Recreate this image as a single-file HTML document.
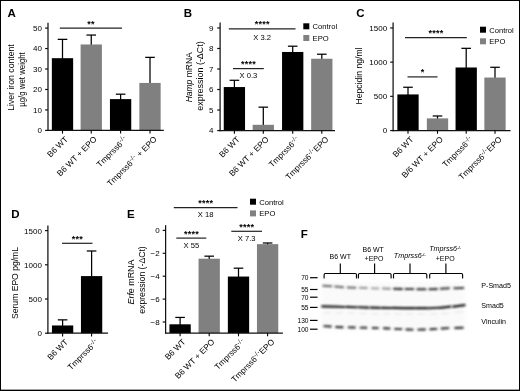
<!DOCTYPE html>
<html lang="en">
<head>
<meta charset="utf-8">
<title>Figure</title>
<style>
html,body{margin:0;padding:0;background:#fff;}
body{width:520px;height:391px;overflow:hidden;position:relative;}
svg{position:absolute;left:0;top:0;display:block;will-change:transform;font-family:"Liberation Sans", Arial, Helvetica, sans-serif;}
.frame{position:absolute;left:0;top:0;width:518px;height:389px;border:1px solid #000;box-sizing:content-box;pointer-events:none;}
</style>
</head>
<body>
<svg width="520" height="391" viewBox="0 0 520 391" shape-rendering="auto">
<defs><filter id="blur" x="-5%" y="-20%" width="110%" height="140%"><feGaussianBlur stdDeviation="0.8"/></filter><filter id="blur2" x="-10%" y="-20%" width="120%" height="140%"><feGaussianBlur stdDeviation="2.5"/></filter></defs>
<text x="7.55" y="17.00" font-size="11.5" text-anchor="start" font-weight="bold" font-style="normal" fill="#000" >A</text>
<line x1="62.50" y1="39.35" x2="62.50" y2="59.18" stroke="#000" stroke-width="1.25"/>
<line x1="57.70" y1="39.35" x2="67.30" y2="39.35" stroke="#000" stroke-width="1.25"/>
<rect x="51.85" y="58.18" width="21.30" height="72.22" fill="#000" />
<line x1="91.25" y1="35.06" x2="91.25" y2="45.47" stroke="#000" stroke-width="1.25"/>
<line x1="86.45" y1="35.06" x2="96.05" y2="35.06" stroke="#000" stroke-width="1.25"/>
<rect x="80.60" y="44.47" width="21.30" height="85.93" fill="#808080" />
<line x1="120.60" y1="94.19" x2="120.60" y2="100.10" stroke="#000" stroke-width="1.25"/>
<line x1="115.80" y1="94.19" x2="125.40" y2="94.19" stroke="#000" stroke-width="1.25"/>
<rect x="109.95" y="99.10" width="21.30" height="31.30" fill="#000" />
<line x1="150.00" y1="57.36" x2="150.00" y2="83.93" stroke="#000" stroke-width="1.25"/>
<line x1="145.20" y1="57.36" x2="154.80" y2="57.36" stroke="#000" stroke-width="1.25"/>
<rect x="139.35" y="82.93" width="21.30" height="47.47" fill="#808080" />
<line x1="48.00" y1="22.70" x2="48.00" y2="131.00" stroke="#111" stroke-width="1.25"/>
<line x1="47.40" y1="130.40" x2="163.80" y2="130.40" stroke="#111" stroke-width="1.25"/>
<line x1="45.10" y1="130.40" x2="48.00" y2="130.40" stroke="#111" stroke-width="1.2"/>
<text x="42.00" y="133.30" font-size="8" text-anchor="end" font-weight="normal" font-style="normal" fill="#000" >0</text>
<line x1="45.10" y1="109.94" x2="48.00" y2="109.94" stroke="#111" stroke-width="1.2"/>
<text x="42.00" y="112.84" font-size="8" text-anchor="end" font-weight="normal" font-style="normal" fill="#000" >10</text>
<line x1="45.10" y1="89.48" x2="48.00" y2="89.48" stroke="#111" stroke-width="1.2"/>
<text x="42.00" y="92.38" font-size="8" text-anchor="end" font-weight="normal" font-style="normal" fill="#000" >20</text>
<line x1="45.10" y1="69.02" x2="48.00" y2="69.02" stroke="#111" stroke-width="1.2"/>
<text x="42.00" y="71.92" font-size="8" text-anchor="end" font-weight="normal" font-style="normal" fill="#000" >30</text>
<line x1="45.10" y1="48.56" x2="48.00" y2="48.56" stroke="#111" stroke-width="1.2"/>
<text x="42.00" y="51.46" font-size="8" text-anchor="end" font-weight="normal" font-style="normal" fill="#000" >40</text>
<line x1="45.10" y1="28.10" x2="48.00" y2="28.10" stroke="#111" stroke-width="1.2"/>
<text x="42.00" y="31.00" font-size="8" text-anchor="end" font-weight="normal" font-style="normal" fill="#000" >50</text>
<line x1="62.50" y1="130.40" x2="62.50" y2="133.60" stroke="#000" stroke-width="1.1"/>
<text x="68.50" y="139.80" font-size="8.3" text-anchor="end" font-weight="normal" font-style="normal" fill="#000" transform="rotate(-45 68.50 139.80)" >B6 WT</text>
<line x1="91.25" y1="130.40" x2="91.25" y2="133.60" stroke="#000" stroke-width="1.1"/>
<text x="97.25" y="139.80" font-size="8.3" text-anchor="end" font-weight="normal" font-style="normal" fill="#000" transform="rotate(-45 97.25 139.80)" >B6 WT + EPO</text>
<line x1="120.60" y1="130.40" x2="120.60" y2="133.60" stroke="#000" stroke-width="1.1"/>
<text x="128.00" y="139.80" font-size="8.3" text-anchor="end" font-weight="normal" font-style="normal" fill="#000" transform="rotate(-45 128.00 139.80)" >Tmprss6<tspan font-size="78%" dy="-2.8" letter-spacing="0.35">-/-</tspan></text>
<line x1="150.00" y1="130.40" x2="150.00" y2="133.60" stroke="#000" stroke-width="1.1"/>
<text x="157.40" y="139.80" font-size="8.3" text-anchor="end" font-weight="normal" font-style="normal" fill="#000" transform="rotate(-45 157.40 139.80)" >Tmprss6<tspan font-size="78%" dy="-2.8" letter-spacing="0.35">-/-</tspan><tspan dy="2.8"> + EPO</tspan></text>
<line x1="59.80" y1="28.10" x2="122.00" y2="28.10" stroke="#222" stroke-width="1.2"/>
<text x="91.10" y="26.50" font-size="9" text-anchor="middle" font-weight="bold" font-style="normal" fill="#000" letter-spacing="0.25">**</text>
<text x="14.00" y="77.50" font-size="8.5" text-anchor="middle" font-weight="normal" font-style="normal" fill="#000" transform="rotate(-90 14.00 77.50)" textLength="66.50" lengthAdjust="spacingAndGlyphs" >Liver iron content</text>
<text x="25.30" y="79.50" font-size="8.5" text-anchor="middle" font-weight="normal" font-style="normal" fill="#000" transform="rotate(-90 25.30 79.50)" textLength="54.50" lengthAdjust="spacingAndGlyphs" >µg/g wet weight</text>
<text x="183.75" y="17.00" font-size="11.5" text-anchor="start" font-weight="bold" font-style="normal" fill="#000" >B</text>
<line x1="234.40" y1="80.28" x2="234.40" y2="88.05" stroke="#000" stroke-width="1.25"/>
<line x1="229.60" y1="80.28" x2="239.20" y2="80.28" stroke="#000" stroke-width="1.25"/>
<rect x="223.75" y="87.05" width="21.30" height="43.50" fill="#000" />
<line x1="263.30" y1="107.16" x2="263.30" y2="125.80" stroke="#000" stroke-width="1.25"/>
<line x1="258.50" y1="107.16" x2="268.10" y2="107.16" stroke="#000" stroke-width="1.25"/>
<rect x="252.65" y="124.80" width="21.30" height="5.75" fill="#808080" />
<line x1="292.70" y1="46.21" x2="292.70" y2="52.96" stroke="#000" stroke-width="1.25"/>
<line x1="287.90" y1="46.21" x2="297.50" y2="46.21" stroke="#000" stroke-width="1.25"/>
<rect x="282.05" y="51.96" width="21.30" height="78.59" fill="#000" />
<line x1="321.80" y1="54.22" x2="321.80" y2="59.73" stroke="#000" stroke-width="1.25"/>
<line x1="317.00" y1="54.22" x2="326.60" y2="54.22" stroke="#000" stroke-width="1.25"/>
<rect x="311.15" y="58.73" width="21.30" height="71.82" fill="#808080" />
<line x1="220.10" y1="22.60" x2="220.10" y2="131.15" stroke="#111" stroke-width="1.25"/>
<line x1="219.50" y1="130.55" x2="335.00" y2="130.55" stroke="#111" stroke-width="1.25"/>
<line x1="217.20" y1="130.55" x2="220.10" y2="130.55" stroke="#111" stroke-width="1.2"/>
<text x="213.50" y="133.45" font-size="8" text-anchor="end" font-weight="normal" font-style="normal" fill="#000" >4</text>
<line x1="217.20" y1="110.03" x2="220.10" y2="110.03" stroke="#111" stroke-width="1.2"/>
<text x="213.50" y="112.93" font-size="8" text-anchor="end" font-weight="normal" font-style="normal" fill="#000" >5</text>
<line x1="217.20" y1="89.51" x2="220.10" y2="89.51" stroke="#111" stroke-width="1.2"/>
<text x="213.50" y="92.41" font-size="8" text-anchor="end" font-weight="normal" font-style="normal" fill="#000" >6</text>
<line x1="217.20" y1="68.99" x2="220.10" y2="68.99" stroke="#111" stroke-width="1.2"/>
<text x="213.50" y="71.89" font-size="8" text-anchor="end" font-weight="normal" font-style="normal" fill="#000" >7</text>
<line x1="217.20" y1="48.47" x2="220.10" y2="48.47" stroke="#111" stroke-width="1.2"/>
<text x="213.50" y="51.37" font-size="8" text-anchor="end" font-weight="normal" font-style="normal" fill="#000" >8</text>
<line x1="217.20" y1="27.95" x2="220.10" y2="27.95" stroke="#111" stroke-width="1.2"/>
<text x="213.50" y="30.85" font-size="8" text-anchor="end" font-weight="normal" font-style="normal" fill="#000" >9</text>
<line x1="234.40" y1="130.55" x2="234.40" y2="133.75" stroke="#000" stroke-width="1.1"/>
<text x="240.40" y="139.95" font-size="8.3" text-anchor="end" font-weight="normal" font-style="normal" fill="#000" transform="rotate(-45 240.40 139.95)" >B6 WT</text>
<line x1="263.30" y1="130.55" x2="263.30" y2="133.75" stroke="#000" stroke-width="1.1"/>
<text x="269.30" y="139.95" font-size="8.3" text-anchor="end" font-weight="normal" font-style="normal" fill="#000" transform="rotate(-45 269.30 139.95)" >B6 WT + EPO</text>
<line x1="292.70" y1="130.55" x2="292.70" y2="133.75" stroke="#000" stroke-width="1.1"/>
<text x="300.10" y="139.95" font-size="8.3" text-anchor="end" font-weight="normal" font-style="normal" fill="#000" transform="rotate(-45 300.10 139.95)" >Tmprss6<tspan font-size="78%" dy="-2.8" letter-spacing="0.35">-/-</tspan></text>
<line x1="321.80" y1="130.55" x2="321.80" y2="133.75" stroke="#000" stroke-width="1.1"/>
<text x="329.20" y="139.95" font-size="8.3" text-anchor="end" font-weight="normal" font-style="normal" fill="#000" transform="rotate(-45 329.20 139.95)" >Tmprss6<tspan font-size="78%" dy="-2.8" letter-spacing="0.35">-/-</tspan><tspan dy="2.8">EPO</tspan></text>
<line x1="228.80" y1="28.90" x2="295.50" y2="28.90" stroke="#222" stroke-width="1.2"/>
<text x="262.35" y="27.30" font-size="9" text-anchor="middle" font-weight="bold" font-style="normal" fill="#000" letter-spacing="0.25">****</text>
<text x="262.15" y="40.10" font-size="7.6" text-anchor="middle" font-weight="normal" font-style="normal" fill="#000" >X 3.2</text>
<line x1="233.00" y1="68.60" x2="263.80" y2="68.60" stroke="#222" stroke-width="1.2"/>
<text x="248.60" y="67.00" font-size="9" text-anchor="middle" font-weight="bold" font-style="normal" fill="#000" letter-spacing="0.25">****</text>
<text x="248.40" y="77.90" font-size="7.6" text-anchor="middle" font-weight="normal" font-style="normal" fill="#000" >X 0.3</text>
<rect x="303.30" y="23.30" width="6.00" height="6.00" fill="#000" />
<text x="312.60" y="29.10" font-size="7.6" text-anchor="start" font-weight="normal" font-style="normal" fill="#000" >Control</text>
<rect x="303.30" y="35.00" width="6.00" height="6.00" fill="#808080" />
<text x="312.60" y="40.80" font-size="7.6" text-anchor="start" font-weight="normal" font-style="normal" fill="#000" >EPO</text>
<text x="192.30" y="77.30" font-size="8.5" text-anchor="middle" font-weight="normal" font-style="normal" fill="#000" transform="rotate(-90 192.30 77.30)" textLength="50.00" lengthAdjust="spacingAndGlyphs" ><tspan font-style="italic">Hamp</tspan> mRNA</text>
<text x="203.20" y="76.00" font-size="8.5" text-anchor="middle" font-weight="normal" font-style="normal" fill="#000" transform="rotate(-90 203.20 76.00)" textLength="69.50" lengthAdjust="spacingAndGlyphs" >expression (-ΔCt)</text>
<text x="356.25" y="17.00" font-size="11.5" text-anchor="start" font-weight="bold" font-style="normal" fill="#000" >C</text>
<line x1="408.00" y1="87.25" x2="408.00" y2="95.43" stroke="#000" stroke-width="1.25"/>
<line x1="403.20" y1="87.25" x2="412.80" y2="87.25" stroke="#000" stroke-width="1.25"/>
<rect x="397.35" y="94.43" width="21.30" height="36.12" fill="#000" />
<line x1="437.50" y1="115.98" x2="437.50" y2="119.37" stroke="#000" stroke-width="1.25"/>
<line x1="432.70" y1="115.98" x2="442.30" y2="115.98" stroke="#000" stroke-width="1.25"/>
<rect x="426.85" y="118.37" width="21.30" height="12.18" fill="#808080" />
<line x1="466.20" y1="48.33" x2="466.20" y2="68.49" stroke="#000" stroke-width="1.25"/>
<line x1="461.40" y1="48.33" x2="471.00" y2="48.33" stroke="#000" stroke-width="1.25"/>
<rect x="455.55" y="67.49" width="21.30" height="63.06" fill="#000" />
<line x1="495.00" y1="67.28" x2="495.00" y2="78.54" stroke="#000" stroke-width="1.25"/>
<line x1="490.20" y1="67.28" x2="499.80" y2="67.28" stroke="#000" stroke-width="1.25"/>
<rect x="484.35" y="77.54" width="21.30" height="53.01" fill="#808080" />
<line x1="393.10" y1="22.40" x2="393.10" y2="131.15" stroke="#111" stroke-width="1.25"/>
<line x1="392.50" y1="130.55" x2="510.50" y2="130.55" stroke="#111" stroke-width="1.25"/>
<line x1="390.20" y1="130.55" x2="393.10" y2="130.55" stroke="#111" stroke-width="1.2"/>
<text x="387.10" y="133.45" font-size="8" text-anchor="end" font-weight="normal" font-style="normal" fill="#000" >0</text>
<line x1="390.20" y1="96.35" x2="393.10" y2="96.35" stroke="#111" stroke-width="1.2"/>
<text x="387.10" y="99.25" font-size="8" text-anchor="end" font-weight="normal" font-style="normal" fill="#000" >500</text>
<line x1="390.20" y1="62.15" x2="393.10" y2="62.15" stroke="#111" stroke-width="1.2"/>
<text x="387.10" y="65.05" font-size="8" text-anchor="end" font-weight="normal" font-style="normal" fill="#000" >1000</text>
<line x1="390.20" y1="27.95" x2="393.10" y2="27.95" stroke="#111" stroke-width="1.2"/>
<text x="387.10" y="30.85" font-size="8" text-anchor="end" font-weight="normal" font-style="normal" fill="#000" >1500</text>
<line x1="408.00" y1="130.55" x2="408.00" y2="133.75" stroke="#000" stroke-width="1.1"/>
<text x="414.00" y="139.95" font-size="8.3" text-anchor="end" font-weight="normal" font-style="normal" fill="#000" transform="rotate(-45 414.00 139.95)" >B6 WT</text>
<line x1="437.50" y1="130.55" x2="437.50" y2="133.75" stroke="#000" stroke-width="1.1"/>
<text x="443.50" y="139.95" font-size="8.3" text-anchor="end" font-weight="normal" font-style="normal" fill="#000" transform="rotate(-45 443.50 139.95)" >B/6 WT + EPO</text>
<line x1="466.20" y1="130.55" x2="466.20" y2="133.75" stroke="#000" stroke-width="1.1"/>
<text x="473.60" y="139.95" font-size="8.3" text-anchor="end" font-weight="normal" font-style="normal" fill="#000" transform="rotate(-45 473.60 139.95)" >Tmprss6<tspan font-size="78%" dy="-2.8" letter-spacing="0.35">-/-</tspan></text>
<line x1="495.00" y1="130.55" x2="495.00" y2="133.75" stroke="#000" stroke-width="1.1"/>
<text x="502.40" y="139.95" font-size="8.3" text-anchor="end" font-weight="normal" font-style="normal" fill="#000" transform="rotate(-45 502.40 139.95)" >Tmprss6<tspan font-size="78%" dy="-2.8" letter-spacing="0.35">-/-</tspan><tspan dy="2.8">EPO</tspan></text>
<line x1="405.00" y1="37.60" x2="466.80" y2="37.60" stroke="#222" stroke-width="1.2"/>
<text x="436.10" y="36.00" font-size="9" text-anchor="middle" font-weight="bold" font-style="normal" fill="#000" letter-spacing="0.25">****</text>
<line x1="407.50" y1="76.90" x2="437.50" y2="76.90" stroke="#222" stroke-width="1.2"/>
<text x="422.70" y="75.30" font-size="9" text-anchor="middle" font-weight="bold" font-style="normal" fill="#000" letter-spacing="0.25">*</text>
<rect x="480.00" y="26.70" width="6.00" height="6.00" fill="#000" />
<text x="489.30" y="32.50" font-size="7.6" text-anchor="start" font-weight="normal" font-style="normal" fill="#000" >Control</text>
<rect x="480.00" y="38.30" width="6.00" height="6.00" fill="#808080" />
<text x="489.30" y="44.10" font-size="7.6" text-anchor="start" font-weight="normal" font-style="normal" fill="#000" >EPO</text>
<text x="362.00" y="76.00" font-size="8.5" text-anchor="middle" font-weight="normal" font-style="normal" fill="#000" transform="rotate(-90 362.00 76.00)" textLength="57.00" lengthAdjust="spacingAndGlyphs" >Hepcidin ng/ml</text>
<text x="11.25" y="218.00" font-size="11.5" text-anchor="start" font-weight="bold" font-style="normal" fill="#000" >D</text>
<line x1="62.60" y1="319.86" x2="62.60" y2="326.47" stroke="#000" stroke-width="1.25"/>
<line x1="57.80" y1="319.86" x2="67.40" y2="319.86" stroke="#000" stroke-width="1.25"/>
<rect x="51.95" y="325.47" width="21.30" height="7.73" fill="#000" />
<line x1="91.60" y1="250.98" x2="91.60" y2="277.09" stroke="#000" stroke-width="1.25"/>
<line x1="86.80" y1="250.98" x2="96.40" y2="250.98" stroke="#000" stroke-width="1.25"/>
<rect x="80.95" y="276.09" width="21.30" height="57.11" fill="#000" />
<line x1="47.90" y1="225.60" x2="47.90" y2="333.80" stroke="#111" stroke-width="1.25"/>
<line x1="47.30" y1="333.20" x2="108.00" y2="333.20" stroke="#111" stroke-width="1.25"/>
<line x1="45.00" y1="333.20" x2="47.90" y2="333.20" stroke="#111" stroke-width="1.2"/>
<text x="41.90" y="336.10" font-size="8" text-anchor="end" font-weight="normal" font-style="normal" fill="#000" >0</text>
<line x1="45.00" y1="299.00" x2="47.90" y2="299.00" stroke="#111" stroke-width="1.2"/>
<text x="41.90" y="301.90" font-size="8" text-anchor="end" font-weight="normal" font-style="normal" fill="#000" >500</text>
<line x1="45.00" y1="264.80" x2="47.90" y2="264.80" stroke="#111" stroke-width="1.2"/>
<text x="41.90" y="267.70" font-size="8" text-anchor="end" font-weight="normal" font-style="normal" fill="#000" >1000</text>
<line x1="45.00" y1="230.60" x2="47.90" y2="230.60" stroke="#111" stroke-width="1.2"/>
<text x="41.90" y="233.50" font-size="8" text-anchor="end" font-weight="normal" font-style="normal" fill="#000" >1500</text>
<line x1="62.60" y1="333.20" x2="62.60" y2="336.40" stroke="#000" stroke-width="1.1"/>
<text x="68.60" y="342.60" font-size="8.3" text-anchor="end" font-weight="normal" font-style="normal" fill="#000" transform="rotate(-45 68.60 342.60)" >B6 WT</text>
<line x1="91.60" y1="333.20" x2="91.60" y2="336.40" stroke="#000" stroke-width="1.1"/>
<text x="99.00" y="342.60" font-size="8.3" text-anchor="end" font-weight="normal" font-style="normal" fill="#000" transform="rotate(-45 99.00 342.60)" >Tmprss6<tspan font-size="78%" dy="-2.8" letter-spacing="0.35">-/-</tspan></text>
<line x1="62.00" y1="243.30" x2="92.50" y2="243.30" stroke="#222" stroke-width="1.2"/>
<text x="77.45" y="241.70" font-size="9" text-anchor="middle" font-weight="bold" font-style="normal" fill="#000" letter-spacing="0.25">***</text>
<text x="17.80" y="283.00" font-size="8.5" text-anchor="middle" font-weight="normal" font-style="normal" fill="#000" transform="rotate(-90 17.80 283.00)" textLength="72.00" lengthAdjust="spacingAndGlyphs" >Serum EPO pg/mL</text>
<text x="127.05" y="218.00" font-size="11.5" text-anchor="start" font-weight="bold" font-style="normal" fill="#000" >E</text>
<line x1="180.10" y1="317.43" x2="180.10" y2="325.30" stroke="#000" stroke-width="1.25"/>
<line x1="175.30" y1="317.43" x2="184.90" y2="317.43" stroke="#000" stroke-width="1.25"/>
<rect x="169.45" y="324.30" width="21.30" height="8.70" fill="#000" />
<line x1="209.20" y1="256.17" x2="209.20" y2="259.69" stroke="#000" stroke-width="1.25"/>
<line x1="204.40" y1="256.17" x2="214.00" y2="256.17" stroke="#000" stroke-width="1.25"/>
<rect x="198.55" y="258.69" width="21.30" height="74.31" fill="#808080" />
<line x1="238.50" y1="268.19" x2="238.50" y2="277.55" stroke="#000" stroke-width="1.25"/>
<line x1="233.70" y1="268.19" x2="243.30" y2="268.19" stroke="#000" stroke-width="1.25"/>
<rect x="227.85" y="276.55" width="21.30" height="56.45" fill="#000" />
<line x1="267.60" y1="243.00" x2="267.60" y2="245.15" stroke="#000" stroke-width="1.25"/>
<line x1="262.80" y1="243.00" x2="272.40" y2="243.00" stroke="#000" stroke-width="1.25"/>
<rect x="256.95" y="244.15" width="21.30" height="88.85" fill="#808080" />
<line x1="165.60" y1="225.20" x2="165.60" y2="333.60" stroke="#111" stroke-width="1.25"/>
<line x1="165.00" y1="333.00" x2="282.90" y2="333.00" stroke="#111" stroke-width="1.25"/>
<line x1="162.70" y1="230.41" x2="165.60" y2="230.41" stroke="#111" stroke-width="1.2"/>
<text x="159.60" y="233.31" font-size="8" text-anchor="end" font-weight="normal" font-style="normal" fill="#000" >0</text>
<line x1="162.70" y1="253.31" x2="165.60" y2="253.31" stroke="#111" stroke-width="1.2"/>
<text x="159.60" y="256.21" font-size="8" text-anchor="end" font-weight="normal" font-style="normal" fill="#000" >−2</text>
<line x1="162.70" y1="276.21" x2="165.60" y2="276.21" stroke="#111" stroke-width="1.2"/>
<text x="159.60" y="279.11" font-size="8" text-anchor="end" font-weight="normal" font-style="normal" fill="#000" >−4</text>
<line x1="162.70" y1="299.11" x2="165.60" y2="299.11" stroke="#111" stroke-width="1.2"/>
<text x="159.60" y="302.01" font-size="8" text-anchor="end" font-weight="normal" font-style="normal" fill="#000" >−6</text>
<line x1="162.70" y1="322.01" x2="165.60" y2="322.01" stroke="#111" stroke-width="1.2"/>
<text x="159.60" y="324.91" font-size="8" text-anchor="end" font-weight="normal" font-style="normal" fill="#000" >−8</text>
<line x1="180.10" y1="333.00" x2="180.10" y2="336.20" stroke="#000" stroke-width="1.1"/>
<text x="186.10" y="342.40" font-size="8.3" text-anchor="end" font-weight="normal" font-style="normal" fill="#000" transform="rotate(-45 186.10 342.40)" >B6 WT</text>
<line x1="209.20" y1="333.00" x2="209.20" y2="336.20" stroke="#000" stroke-width="1.1"/>
<text x="215.20" y="342.40" font-size="8.3" text-anchor="end" font-weight="normal" font-style="normal" fill="#000" transform="rotate(-45 215.20 342.40)" >B6 WT + EPO</text>
<line x1="238.50" y1="333.00" x2="238.50" y2="336.20" stroke="#000" stroke-width="1.1"/>
<text x="245.90" y="342.40" font-size="8.3" text-anchor="end" font-weight="normal" font-style="normal" fill="#000" transform="rotate(-45 245.90 342.40)" >Tmprss6<tspan font-size="78%" dy="-2.8" letter-spacing="0.35">-/-</tspan></text>
<line x1="267.60" y1="333.00" x2="267.60" y2="336.20" stroke="#000" stroke-width="1.1"/>
<text x="275.00" y="342.40" font-size="8.3" text-anchor="end" font-weight="normal" font-style="normal" fill="#000" transform="rotate(-45 275.00 342.40)" >Tmprss6<tspan font-size="78%" dy="-2.8" letter-spacing="0.35">-/-</tspan><tspan dy="2.8">EPO</tspan></text>
<line x1="173.80" y1="207.60" x2="237.50" y2="207.60" stroke="#222" stroke-width="1.2"/>
<text x="205.85" y="206.00" font-size="9" text-anchor="middle" font-weight="bold" font-style="normal" fill="#000" letter-spacing="0.25">****</text>
<text x="205.65" y="217.00" font-size="7.6" text-anchor="middle" font-weight="normal" font-style="normal" fill="#000" >X 18</text>
<line x1="176.30" y1="238.10" x2="206.30" y2="238.10" stroke="#222" stroke-width="1.2"/>
<text x="191.50" y="236.50" font-size="9" text-anchor="middle" font-weight="bold" font-style="normal" fill="#000" letter-spacing="0.25">****</text>
<text x="191.30" y="247.50" font-size="7.6" text-anchor="middle" font-weight="normal" font-style="normal" fill="#000" >X 55</text>
<line x1="231.30" y1="231.30" x2="262.00" y2="231.30" stroke="#222" stroke-width="1.2"/>
<text x="246.85" y="229.70" font-size="9" text-anchor="middle" font-weight="bold" font-style="normal" fill="#000" letter-spacing="0.25">****</text>
<text x="246.65" y="240.70" font-size="7.6" text-anchor="middle" font-weight="normal" font-style="normal" fill="#000" >X 7.3</text>
<rect x="250.00" y="198.70" width="6.00" height="6.00" fill="#000" />
<text x="259.30" y="204.50" font-size="7.6" text-anchor="start" font-weight="normal" font-style="normal" fill="#000" >Control</text>
<rect x="250.00" y="210.40" width="6.00" height="6.00" fill="#808080" />
<text x="259.30" y="216.20" font-size="7.6" text-anchor="start" font-weight="normal" font-style="normal" fill="#000" >EPO</text>
<text x="134.00" y="282.00" font-size="8.5" text-anchor="middle" font-weight="normal" font-style="normal" fill="#000" transform="rotate(-90 134.00 282.00)" textLength="45.00" lengthAdjust="spacingAndGlyphs" ><tspan font-style="italic">Erfe</tspan> mRNA</text>
<text x="145.00" y="280.00" font-size="8.5" text-anchor="middle" font-weight="normal" font-style="normal" fill="#000" transform="rotate(-90 145.00 280.00)" textLength="67.50" lengthAdjust="spacingAndGlyphs" >expression (-ΔCt)</text>
<text x="300.75" y="237.60" font-size="11.5" text-anchor="start" font-weight="bold" font-style="normal" fill="#000" >F</text>
<text x="308.50" y="280.00" font-size="6.6" text-anchor="end" font-weight="normal" font-style="normal" fill="#000" >70</text>
<line x1="310.00" y1="277.70" x2="317.60" y2="277.70" stroke="#000" stroke-width="1.2"/>
<text x="308.50" y="291.80" font-size="6.6" text-anchor="end" font-weight="normal" font-style="normal" fill="#000" >55</text>
<line x1="310.00" y1="289.50" x2="317.60" y2="289.50" stroke="#000" stroke-width="1.2"/>
<text x="308.50" y="299.50" font-size="6.6" text-anchor="end" font-weight="normal" font-style="normal" fill="#000" >70</text>
<line x1="310.00" y1="297.20" x2="317.60" y2="297.20" stroke="#000" stroke-width="1.2"/>
<text x="308.50" y="309.70" font-size="6.6" text-anchor="end" font-weight="normal" font-style="normal" fill="#000" >55</text>
<line x1="310.00" y1="307.40" x2="317.60" y2="307.40" stroke="#000" stroke-width="1.2"/>
<text x="308.50" y="322.70" font-size="6.6" text-anchor="end" font-weight="normal" font-style="normal" fill="#000" >130</text>
<line x1="310.00" y1="320.40" x2="317.60" y2="320.40" stroke="#000" stroke-width="1.2"/>
<text x="308.50" y="331.50" font-size="6.6" text-anchor="end" font-weight="normal" font-style="normal" fill="#000" >100</text>
<line x1="310.00" y1="329.20" x2="317.60" y2="329.20" stroke="#000" stroke-width="1.2"/>
<path d="M324.10 278.5 V274.8 Q324.10 273.5 325.40 273.5 H355.20 Q356.50 273.5 356.50 274.8 V278.5 M340.30 273.5 V263.4" fill="none" stroke="#000" stroke-width="1.15"/>
<path d="M358.40 278.5 V274.8 Q358.40 273.5 359.70 273.5 H389.80 Q391.10 273.5 391.10 274.8 V278.5 M374.60 273.5 V263.4" fill="none" stroke="#000" stroke-width="1.15"/>
<path d="M393.50 278.5 V274.8 Q393.50 273.5 394.80 273.5 H425.50 Q426.80 273.5 426.80 274.8 V278.5 M410.00 273.5 V263.4" fill="none" stroke="#000" stroke-width="1.15"/>
<path d="M429.70 278.5 V274.8 Q429.70 273.5 431.00 273.5 H461.30 Q462.60 273.5 462.60 274.8 V278.5 M445.90 273.5 V263.4" fill="none" stroke="#000" stroke-width="1.15"/>
<text x="340.30" y="259.30" font-size="7" text-anchor="middle" font-weight="normal" font-style="normal" fill="#000" >B6 WT</text>
<text x="373.20" y="252.10" font-size="7" text-anchor="middle" font-weight="normal" font-style="normal" fill="#000" >B6 WT</text>
<text x="374.00" y="261.30" font-size="7" text-anchor="middle" font-weight="normal" font-style="normal" fill="#000" >+EPO</text>
<text x="409.70" y="257.80" font-size="7.2" text-anchor="middle" font-weight="normal" font-style="italic" fill="#000" >Tmprss6<tspan font-size="55%" dy="-2.2" font-weight="bold">-/-</tspan></text>
<text x="445.00" y="251.00" font-size="7.2" text-anchor="middle" font-weight="normal" font-style="italic" fill="#000" >Tmprss6<tspan font-size="55%" dy="-2.2" font-weight="bold">-/-</tspan></text>
<text x="445.20" y="260.70" font-size="7" text-anchor="middle" font-weight="normal" font-style="normal" fill="#000" >+EPO</text>
<text x="481.30" y="287.70" font-size="7.1" text-anchor="start" font-weight="normal" font-style="normal" fill="#000" >P-Smad5</text>
<text x="481.30" y="307.70" font-size="7.1" text-anchor="start" font-weight="normal" font-style="normal" fill="#000" >Smad5</text>
<text x="481.30" y="324.20" font-size="7.1" text-anchor="start" font-weight="normal" font-style="normal" fill="#000" >Vinculin</text>
<g filter="url(#blur2)">
<rect x="321.00" y="282.00" width="144.00" height="48.00" fill="#fafafa" />
</g>
<g filter="url(#blur)">
<rect x="322.30" y="285.00" width="10.00" height="2.0" rx="1" fill="rgb(102,102,102)" transform="rotate(4.3 327.30 286.00)"/>
<rect x="321.10" y="305.40" width="12.60" height="2.2" rx="1" fill="#161616" transform="rotate(1.9 327.30 306.50)"/>
<rect x="323.30" y="312.10" width="8.00" height="1.0" fill="#e4e4e4"/>
<rect x="323.30" y="325.35" width="8.40" height="1.9" rx="0.9" fill="#1c1c1c" transform="rotate(3.8 327.30 326.30)"/>
<rect x="334.20" y="285.90" width="10.00" height="2.0" rx="1" fill="rgb(102,102,102)" transform="rotate(4.1 339.20 286.90)"/>
<rect x="333.00" y="305.70" width="12.60" height="2.2" rx="1" fill="#161616" transform="rotate(1.9 339.20 306.80)"/>
<rect x="335.20" y="312.40" width="8.00" height="1.0" fill="#e4e4e4"/>
<rect x="335.20" y="326.15" width="8.40" height="1.9" rx="0.9" fill="#1c1c1c" transform="rotate(2.6 339.20 327.10)"/>
<rect x="346.70" y="286.70" width="9.60" height="2.0" rx="1" fill="rgb(102,102,102)" transform="rotate(2.4 351.50 287.70)"/>
<rect x="345.50" y="306.00" width="12.20" height="2.2" rx="1" fill="#161616" transform="rotate(1.9 351.50 307.10)"/>
<rect x="347.70" y="312.70" width="7.60" height="1.0" fill="#e4e4e4"/>
<rect x="347.70" y="326.45" width="8.00" height="1.9" rx="0.9" fill="#1c1c1c" transform="rotate(1.4 351.50 327.40)"/>
<rect x="358.80" y="286.90" width="9.10" height="2.0" rx="1" fill="rgb(147,147,147)" transform="rotate(1.4 363.35 287.90)"/>
<rect x="357.60" y="306.30" width="11.70" height="2.2" rx="1" fill="#161616" transform="rotate(1.9 363.35 307.40)"/>
<rect x="359.80" y="313.00" width="7.10" height="1.0" fill="#e4e4e4"/>
<rect x="359.80" y="326.75" width="7.50" height="1.9" rx="0.9" fill="#1c1c1c" transform="rotate(1.4 363.35 327.70)"/>
<rect x="370.80" y="287.30" width="8.60" height="2.0" rx="1" fill="rgb(163,163,163)" transform="rotate(1.8 375.10 288.30)"/>
<rect x="369.60" y="306.60" width="11.20" height="2.2" rx="1" fill="#161616" transform="rotate(1.6 375.10 307.70)"/>
<rect x="371.80" y="313.30" width="6.60" height="1.0" fill="#e4e4e4"/>
<rect x="371.80" y="327.05" width="7.00" height="1.9" rx="0.9" fill="#1c1c1c" transform="rotate(1.7 375.10 328.00)"/>
<rect x="382.00" y="287.65" width="9.00" height="2.0" rx="1" fill="rgb(137,137,137)" transform="rotate(1.4 386.50 288.65)"/>
<rect x="380.80" y="306.80" width="11.60" height="2.2" rx="1" fill="#161616" transform="rotate(0.9 386.50 307.90)"/>
<rect x="383.00" y="313.50" width="7.00" height="1.0" fill="#e4e4e4"/>
<rect x="383.00" y="327.45" width="7.40" height="1.9" rx="0.9" fill="#1c1c1c" transform="rotate(2.4 386.50 328.40)"/>
<rect x="393.00" y="287.90" width="10.00" height="2.0" rx="1" fill="rgb(35,35,35)" transform="rotate(1.0 398.00 288.90)"/>
<rect x="391.80" y="306.90" width="12.60" height="2.2" rx="1" fill="#161616" transform="rotate(0.6 398.00 308.00)"/>
<rect x="394.00" y="313.60" width="8.00" height="1.0" fill="#e4e4e4"/>
<rect x="394.00" y="328.05" width="8.40" height="1.9" rx="0.9" fill="#1c1c1c" transform="rotate(2.6 398.00 329.00)"/>
<rect x="404.50" y="288.05" width="9.70" height="2.0" rx="1" fill="rgb(50,50,50)" transform="rotate(1.0 409.35 289.05)"/>
<rect x="403.30" y="307.00" width="12.30" height="2.2" rx="1" fill="#161616" transform="rotate(0.3 409.35 308.10)"/>
<rect x="405.50" y="313.70" width="7.70" height="1.0" fill="#e4e4e4"/>
<rect x="405.50" y="328.55" width="8.10" height="1.9" rx="0.9" fill="#1c1c1c" transform="rotate(1.4 409.35 329.50)"/>
<rect x="416.30" y="288.30" width="10.20" height="2.0" rx="1" fill="rgb(40,40,40)" transform="rotate(0.1 421.40 289.30)"/>
<rect x="415.10" y="307.00" width="12.80" height="2.2" rx="1" fill="#161616" transform="rotate(-0.3 421.40 308.10)"/>
<rect x="417.30" y="313.70" width="8.20" height="1.0" fill="#e4e4e4"/>
<rect x="417.30" y="328.65" width="8.60" height="1.9" rx="0.9" fill="#1c1c1c" transform="rotate(-1.0 421.40 329.60)"/>
<rect x="428.40" y="288.10" width="9.60" height="2.0" rx="1" fill="rgb(40,40,40)" transform="rotate(-1.9 433.20 289.10)"/>
<rect x="427.20" y="306.90" width="12.20" height="2.2" rx="1" fill="#161616" transform="rotate(-2.8 433.20 308.00)"/>
<rect x="429.40" y="313.60" width="7.60" height="1.0" fill="#e4e4e4"/>
<rect x="429.40" y="328.15" width="8.00" height="1.9" rx="0.9" fill="#1c1c1c" transform="rotate(-3.1 433.20 329.10)"/>
<rect x="439.70" y="287.50" width="10.30" height="2.0" rx="1" fill="rgb(50,50,50)" transform="rotate(-2.4 444.85 288.50)"/>
<rect x="438.50" y="306.10" width="12.90" height="2.2" rx="1" fill="#161616" transform="rotate(-6.6 444.85 307.20)"/>
<rect x="440.70" y="312.80" width="8.30" height="1.0" fill="#e4e4e4"/>
<rect x="440.70" y="327.35" width="8.70" height="1.9" rx="0.9" fill="#1c1c1c" transform="rotate(-2.9 444.85 328.30)"/>
<rect x="453.30" y="287.10" width="11.00" height="2.0" rx="1" fill="rgb(56,56,56)" transform="rotate(-1.9 458.80 288.10)"/>
<rect x="452.10" y="304.80" width="13.60" height="2.2" rx="1" fill="#161616" transform="rotate(-8.1 458.80 305.90)"/>
<rect x="454.30" y="311.50" width="9.00" height="1.0" fill="#e4e4e4"/>
<rect x="454.30" y="326.95" width="9.40" height="1.9" rx="0.9" fill="#1c1c1c" transform="rotate(-1.9 458.80 327.90)"/>
</g>
<rect x="0.00" y="389.65" width="520.00" height="1.35" fill="#000" />
</svg>
<div class="frame"></div>
</body>
</html>
